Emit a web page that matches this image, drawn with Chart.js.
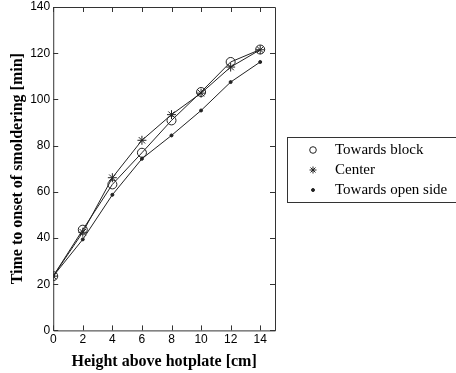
<!DOCTYPE html>
<html>
<head>
<meta charset="utf-8">
<script src="https://cdn.jsdelivr.net/npm/chart.js@4"></script>
<style>
  html, body { margin: 0; padding: 0; background: #fff; }
  #wrap { width: 456px; height: 373px; }
</style>
</head>
<body>
<div id="wrap"><canvas id="smolderChart" width="456" height="373"></canvas></div>
<script>
// heights above the hotplate [cm]
const heights = [0, 2, 4, 6, 8, 10, 12, 14];
// time to onset of smoldering [min]
const towardsBlock = [23.5, 43.6, 63.2, 76.9, 90.9, 103.2, 116.2, 121.6];
const center = [23.5, 42.5, 66.1, 82.3, 93.4, 102.7, 114.0, 121.5];
const towardsOpen = [23.5, 39.4, 58.7, 74.3, 84.4, 95.2, 107.5, 116.2];

const xTicks = [0, 2, 4, 6, 8, 10, 12, 14];
const yTicks = [0, 20, 40, 60, 80, 100, 120, 140];
const seriesNames = ["Towards block", "Center", "Towards open side"];

const axisColor = "#333";
const lineColor = "#222";

function toPoints(vals) {
  return heights.map((h, i) => ({ x: h, y: vals[i] }));
}

// MATLAB-style box with inward tick marks on all four sides
const boxTicks = {
  id: "boxTicks",
  afterDatasetsDraw(chart) {
    const { ctx, chartArea: a, scales } = chart;
    const len = 5;
    ctx.save();
    ctx.strokeStyle = axisColor;
    ctx.lineWidth = 1;
    ctx.beginPath();
    ctx.rect(a.left + 0.5, a.top + 0.5, a.right - a.left, a.bottom - a.top);
    xTicks.forEach(v => {
      const px = Math.round(scales.x.getPixelForValue(v)) + 0.5;
      ctx.moveTo(px, a.bottom); ctx.lineTo(px, a.bottom - len);
      ctx.moveTo(px, a.top); ctx.lineTo(px, a.top + len);
    });
    yTicks.forEach(v => {
      const py = Math.round(scales.y.getPixelForValue(v)) + 0.5;
      ctx.moveTo(a.left, py); ctx.lineTo(a.left + len, py);
      ctx.moveTo(a.right, py); ctx.lineTo(a.right - len, py);
    });
    ctx.stroke();
    ctx.restore();
  }
};

// boxed legend to the right of the axes
const legendRadii = [3.3, 3.5, 1.5];
const boxLegend = {
  id: "boxLegend",
  afterDraw(chart) {
    const { ctx } = chart;
    const left = 287, top = 137, bottom = 202;
    const rows = [150, 170, 190];
    ctx.save();
    ctx.strokeStyle = axisColor;
    ctx.lineWidth = 1;
    ctx.strokeRect(left + 0.5, top + 0.5, 200, bottom - top);
    chart.data.datasets.forEach((ds, i) => {
      ctx.fillStyle = ds.pointBackgroundColor;
      ctx.strokeStyle = ds.pointBorderColor;
      Chart.helpers.drawPoint(ctx, {
        pointStyle: ds.pointStyle,
        radius: legendRadii[i],
        borderWidth: 1
      }, 313, rows[i]);
      ctx.fillStyle = "#000";
      ctx.font = "15px 'Liberation Serif'";
      ctx.textBaseline = "middle";
      ctx.fillText(ds.label, 335, rows[i]);
    });
    ctx.restore();
  }
};

function makeDataset(label, vals, style, radius, fill) {
  return {
    label: label,
    data: toPoints(vals),
    borderColor: lineColor,
    borderWidth: 1,
    pointStyle: style,
    pointRadius: radius,
    pointBorderColor: lineColor,
    pointBackgroundColor: fill,
    pointBorderWidth: 1,
    tension: 0
  };
}

const tickFont = { family: "'Liberation Sans'", size: 12 };
const titleFont = { family: "'Liberation Serif'", size: 16, weight: "bold" };

// drop the label overhang padding so the layout padding alone sets the box edges
function noOverhang(scale) {
  scale.paddingTop = 0;
  scale.paddingBottom = 0;
  scale.paddingLeft = 0;
  scale.paddingRight = 0;
}

new Chart(document.getElementById("smolderChart"), {
  type: "line",
  data: {
    datasets: [
      makeDataset(seriesNames[0], towardsBlock, "circle", 4.5, "rgba(0,0,0,0)"),
      makeDataset(seriesNames[1], center, "star", 4.5, lineColor),
      makeDataset(seriesNames[2], towardsOpen, "circle", 1.5, lineColor)
    ]
  },
  options: {
    responsive: false,
    animation: false,
    layout: { padding: { top: 7, right: 181, left: 8, bottom: 2 } },
    plugins: {
      legend: { display: false },
      tooltip: { enabled: false }
    },
    scales: {
      x: {
        type: "linear",
        min: 0,
        max: 15,
        afterBuildTicks(scale) { scale.ticks = xTicks.map(v => ({ value: v })); },
        afterFit: noOverhang,
        grid: { display: false, drawTicks: false },
        border: { display: false },
        ticks: { color: "#000", padding: 2, font: tickFont },
        title: {
          display: true,
          text: "Height above hotplate [cm]",
          color: "#000",
          padding: { top: 3, bottom: 0 },
          font: titleFont
        }
      },
      y: {
        min: 0,
        max: 140,
        afterBuildTicks(scale) { scale.ticks = yTicks.map(v => ({ value: v })); },
        afterFit: noOverhang,
        grid: { display: false, drawTicks: false },
        border: { display: false },
        ticks: { color: "#000", padding: 3, font: tickFont },
        title: {
          display: true,
          text: "Time to onset of smoldering [min]",
          color: "#000",
          padding: { top: 0, bottom: 0 },
          font: titleFont
        }
      }
    }
  },
  plugins: [boxTicks, boxLegend]
});
</script>
</body>
</html>
